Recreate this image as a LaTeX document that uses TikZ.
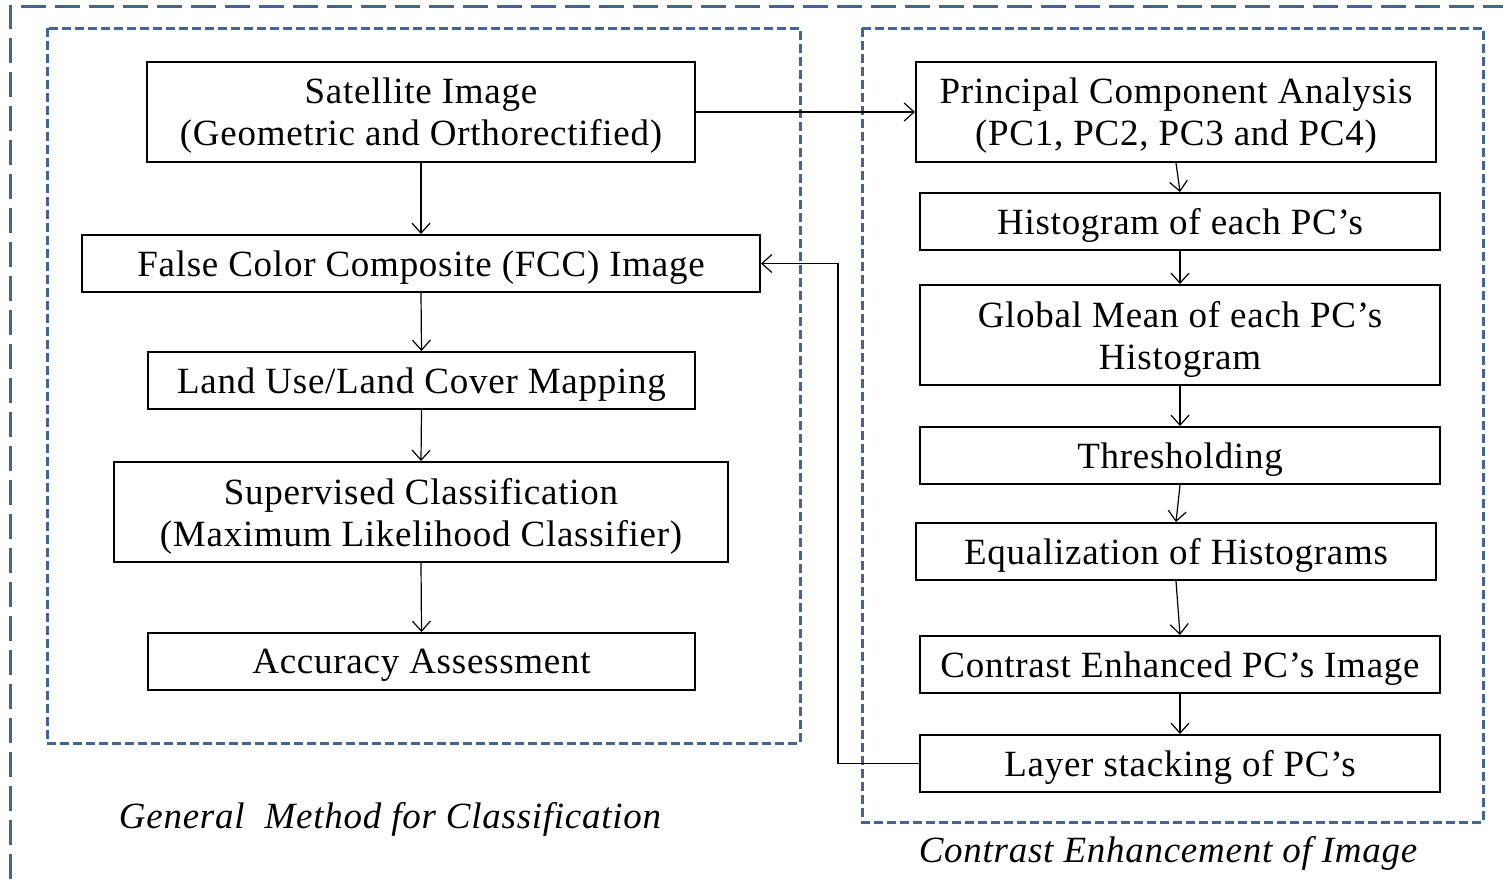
\documentclass[tikz,border=0pt]{standalone}
\usepackage{fontspec}
\setmainfont{Liberation Serif}[LetterSpace=2]
\usetikzlibrary{arrows.meta}
\definecolor{dashblue}{RGB}{66,101,148}
\tikzset{
  box/.style={draw=black, line width=1pt, fill=white, align=center, inner sep=0pt,
    text depth=0pt, font=\fontsize{18.5}{21}\selectfont},
  arr/.style={draw=black, line width=0.6pt, -{Straight Barb[length=5pt,width=9pt]}},
  outerdash/.style={draw=dashblue, line width=1.5pt, dash pattern=on 12.5pt off 4.5pt},
  innerdash/.style={draw=dashblue, line width=1.5pt, dash pattern=on 4.5pt off 2pt},
  caption/.style={font=\fontsize{18.5}{21}\selectfont\itshape, inner sep=0pt}
}
\begin{document}
\begin{tikzpicture}[x=0.5pt,y=-0.5pt]
\useasboundingbox (0,0) rectangle (1503,879);
% dashed frames
\draw[outerdash] (10,879) -- (10,6) -- (1503,6);
\draw[innerdash] (47,28) rectangle (800,743);
\draw[innerdash] (862,28) rectangle (1483,822);
% left column
\node[box, minimum width=274pt, minimum height=50pt] (sat) at (421,112) {Satellite Image\\(Geometric and Orthorectified)};
\node[box, minimum width=339pt, minimum height=28.5pt] (fcc) at (421,263.5) {False Color Composite (FCC) Image};
\node[box, minimum width=273.5pt, minimum height=28.5pt] (lulc) at (421.5,380.5) {Land Use/Land Cover Mapping};
\node[box, minimum width=307pt, minimum height=50pt] (sup) at (421,512) {Supervised Classification\\(Maximum Likelihood Classifier)};
\node[box, minimum width=273.5pt, minimum height=28.5pt] (acc) at (421.5,661.5) {Accuracy Assessment};
% right column
\node[box, minimum width=260pt, minimum height=50pt] (pca) at (1176,112) {Principal Component Analysis\\(PC1, PC2, PC3 and PC4)};
\node[box, minimum width=260pt, minimum height=28.5pt] (hist) at (1180,221.5) {Histogram of each PC’s};
\node[box, minimum width=260pt, minimum height=50pt] (glob) at (1180,335) {Global Mean of each PC’s\\Histogram};
\node[box, minimum width=260pt, minimum height=28.5pt] (thr) at (1180,455.5) {Thresholding};
\node[box, minimum width=260pt, minimum height=28.5pt] (equ) at (1176,551.5) {Equalization of Histograms};
\node[box, minimum width=260pt, minimum height=28.5pt] (con) at (1180,664.5) {Contrast Enhanced PC’s Image};
\node[box, minimum width=260pt, minimum height=28.5pt] (lay) at (1180,763.5) {Layer stacking of PC’s};
% captions
\node[caption] (cap1) at (390,819) {General\ \ Method for Classification};
\node[caption] (cap2) at (1168,853) {Contrast Enhancement of Image};
% arrows left
\draw[arr] (sat.south) -- (fcc.north);
\draw[arr] (fcc.south) -- (lulc.north);
\draw[arr] (lulc.south) -- (sup.north);
\draw[arr] (sup.south) -- (acc.north);
% arrows right
\draw[arr] (sat.east) -- (pca.west);
\draw[arr] (pca.south) -- (hist.north);
\draw[arr] (hist.south) -- (glob.north);
\draw[arr] (glob.south) -- (thr.north);
\draw[arr] (thr.south) -- (equ.north);
\draw[arr] (equ.south) -- (con.north);
\draw[arr] (con.south) -- (lay.north);
% feedback
\coordinate (turn) at (838,763.5);
\draw[arr] (lay.west) -- (turn) |- (fcc.east);
\end{tikzpicture}
\end{document}
